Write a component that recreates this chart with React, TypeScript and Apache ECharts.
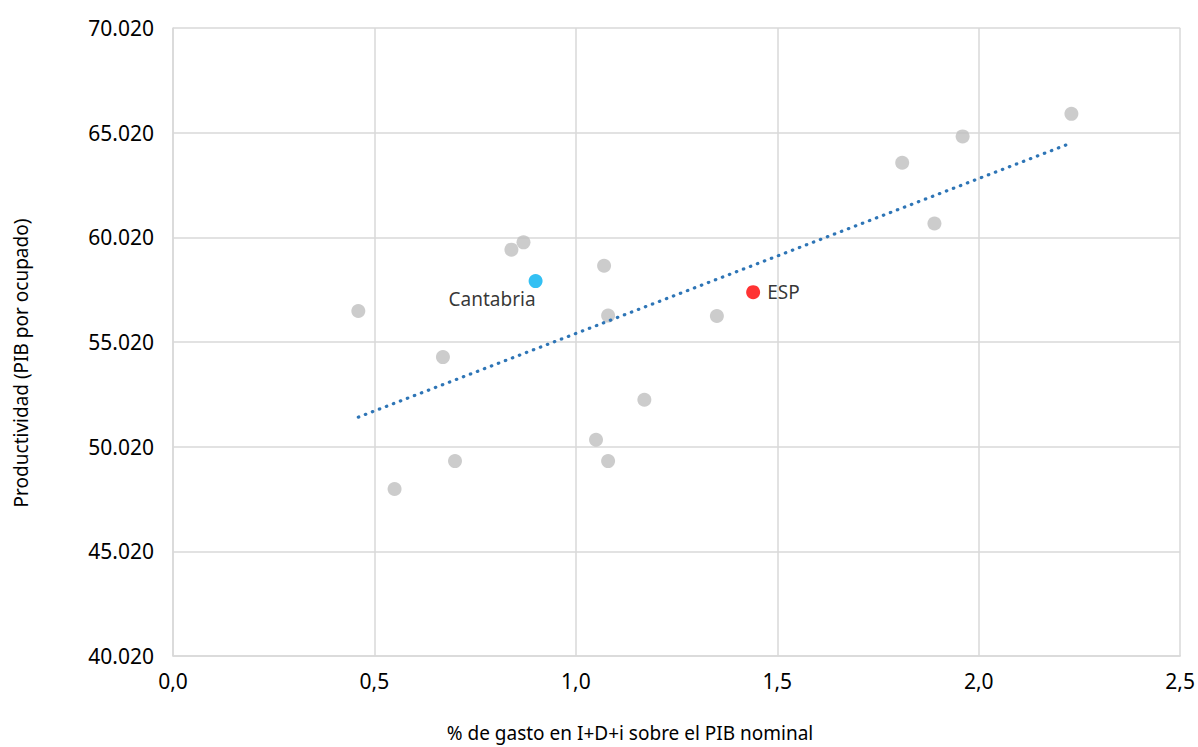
import React, { useEffect, useRef } from "react";
import * as echarts from "echarts";

const otherX = [0.46, 0.55, 0.67, 0.70, 0.84, 0.87, 1.05, 1.07, 1.08, 1.08, 1.17, 1.35, 1.81, 1.89, 1.96, 2.23];
const otherY = [56500, 48000, 54300, 49330, 59430, 59780, 50350, 58660, 56280, 49330, 52260, 56260, 63580, 60680, 64840, 65920];
const cantabria = [0.90, 57930];
const esp = [1.44, 57400];
const trendX = [0.46, 2.23];
const trendY = [51430, 64530];
const yTicks = [40020, 45020, 50020, 55020, 60020, 65020, 70020];
const xTicks = [0, 0.5, 1, 1.5, 2, 2.5];

const OFFSET = yTicks[0] - 40000;
const FONT = "Noto Sans";

function fmtY(v: number) {
  const n = Math.round(v + OFFSET);
  return n.toString().replace(/\B(?=(\d{3})+(?!\d))/g, ".");
}

export default function App() {
  const ref = useRef<HTMLDivElement>(null);
  useEffect(() => {
    if (!ref.current) return;
    const chart = echarts.init(ref.current, null, { renderer: "svg" });
    const sh = (y: number) => y - OFFSET;
    chart.setOption({
      animation: false,
      grid: { left: 173, right: 16, top: 28, bottom: 91, containLabel: false },
      xAxis: {
        type: "value",
        min: xTicks[0],
        max: xTicks[xTicks.length - 1],
        interval: 0.5,
        axisLine: { show: true, lineStyle: { color: "#d9d9d9", width: 1.5 } },
        axisTick: { show: false },
        splitLine: { show: true, lineStyle: { color: "#d9d9d9", width: 1.5 } },
        axisLabel: {
          color: "#000",
          fontFamily: FONT,
          fontSize: 21,
          margin: 14,
          formatter: (v: number) => v.toFixed(1).replace(".", ","),
        },
      },
      yAxis: {
        type: "value",
        min: 40000,
        max: 70000,
        interval: 5000,
        axisLine: { show: true, lineStyle: { color: "#d9d9d9", width: 1.5 } },
        axisTick: { show: false },
        splitLine: { show: true, lineStyle: { color: "#d9d9d9", width: 1.5 } },
        axisLabel: {
          color: "#000",
          fontFamily: FONT,
          fontSize: 21,
          margin: 19,
          formatter: (v: number) => fmtY(v),
        },
      },
      graphic: [
        {
          type: "text",
          x: 630,
          y: 733,
          style: {
            text: "% de gasto en I+D+i sobre el PIB nominal",
            fontFamily: FONT,
            fontSize: 19,
            fill: "#000",
            align: "center",
            verticalAlign: "middle",
          },
        },
        {
          type: "text",
          x: 21,
          y: 363,
          rotation: Math.PI / 2,
          style: {
            text: "Productividad (PIB por ocupado)",
            fontFamily: FONT,
            fontSize: 19,
            fill: "#000",
            align: "center",
            verticalAlign: "middle",
          },
        },
      ],
      series: [
        {
          type: "line",
          data: trendX.map((x, i) => [x, sh(trendY[i])]),
          showSymbol: false,
          symbol: "none",
          lineStyle: { color: "#2e75b6", width: 3.2, type: [0.5, 7], cap: "round" },
          z: 3,
        },
        {
          type: "scatter",
          data: otherX.map((x, i) => [x, sh(otherY[i])]),
          symbolSize: 14,
          itemStyle: { color: "#bfbfbf" },
          z: 2,
        },
        {
          type: "scatter",
          data: [[cantabria[0], sh(cantabria[1])]],
          symbolSize: 14,
          itemStyle: { color: "#00b0f0" },
          label: {
            show: true,
            formatter: "Cantabria",
            position: [-80, 15],
            color: "#000",
            fontFamily: FONT,
            fontSize: 19,
          },
          z: 4,
        },
        {
          type: "scatter",
          data: [[esp[0], sh(esp[1])]],
          symbolSize: 14,
          itemStyle: { color: "#ff0000" },
          label: {
            show: true,
            formatter: "ESP",
            position: "right",
            distance: 7,
            color: "#000",
            fontFamily: FONT,
            fontSize: 19,
          },
          z: 4,
        },
      ],
    });
    return () => chart.dispose();
  }, []);
  return <div ref={ref} style={{ width: 1198, height: 747, position: "absolute", left: 0, top: 0 }} />;
}
